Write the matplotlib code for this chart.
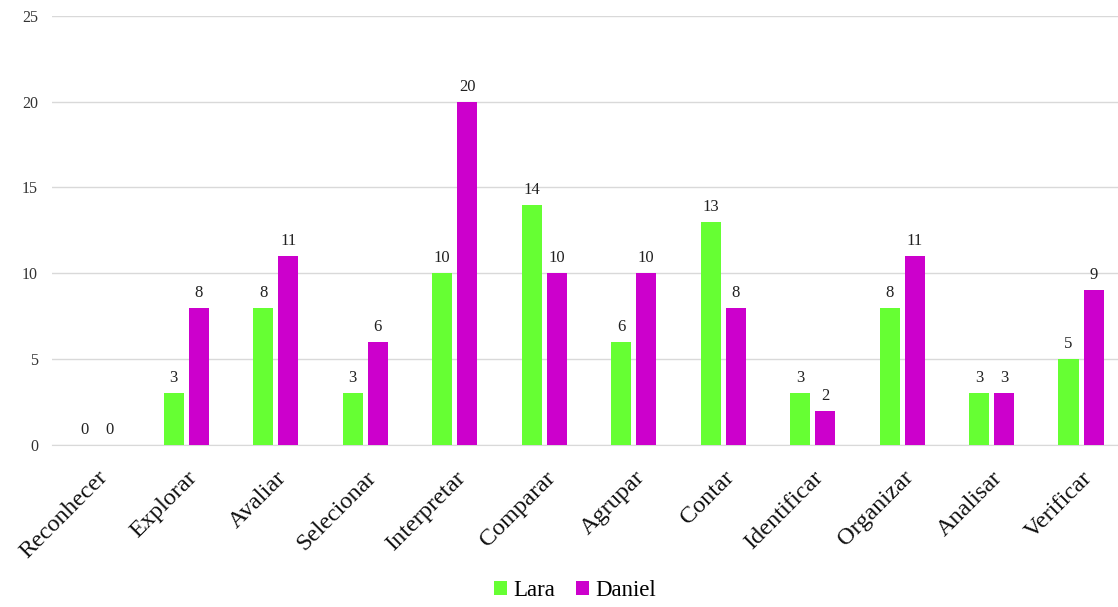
import matplotlib
matplotlib.use("Agg")
import matplotlib.pyplot as plt
import numpy as np

categories = ["Reconhecer", "Explorar", "Avaliar", "Selecionar", "Interpretar", "Comparar",
              "Agrupar", "Contar", "Identificar", "Organizar", "Analisar", "Verificar"]
lara = [0, 3, 8, 3, 10, 14, 6, 13, 3, 8, 3, 5]
daniel = [0, 8, 11, 6, 20, 10, 10, 8, 2, 11, 3, 9]
yticks = [0, 5, 10, 15, 20, 25]

green = "#66FF33"
magenta = "#CC00CC"
serif = ["Liberation Serif", "DejaVu Serif"]

fig = plt.figure(figsize=(11.18, 6.07), dpi=100)
# plot area runs slightly past the right edge of the image, as in the reference
ax = fig.add_axes([0.0465, 0.267, 0.9605, 0.707])

x = np.arange(len(categories))
w = 0.225
off = 0.14
b1 = ax.bar(x - off, lara, w, color=green, label="Lara", zorder=3)
b2 = ax.bar(x + off, daniel, w, color=magenta, label="Daniel", zorder=3)

for bars in (b1, b2):
    for r in bars:
        h = r.get_height()
        ax.annotate(f"{int(h)}", (r.get_x() + r.get_width() / 2, h), xytext=(0, 5),
                    textcoords="offset points", ha="center", va="bottom",
                    fontsize=12, family=serif, color="#222222")

ax.set_xlim(-0.5, len(categories) - 0.5)
ax.set_ylim(0, 25)
ax.set_yticks(yticks)
ax.set_yticklabels([str(t) for t in yticks], family=serif, fontsize=11.5, color="#333333")
ax.set_xticks(x)
ax.set_xticklabels(categories, rotation=45, ha="right", rotation_mode="anchor",
                   family=serif, fontsize=17.5, color="#111111")
ax.tick_params(axis="both", length=0)
ax.tick_params(axis="y", pad=10)
ax.tick_params(axis="x", pad=16)
ax.grid(axis="y", color="#d9d9d9", linewidth=1, zorder=0)
for s in ["left", "right", "top"]:
    ax.spines[s].set_visible(False)
ax.spines["bottom"].set_color("#d9d9d9")

leg = fig.legend(handles=[b1, b2], labels=["Lara", "Daniel"], loc="center",
                 bbox_to_anchor=(0.514, 0.027), ncol=2, frameon=False,
                 prop={"family": serif, "size": 16.5}, handlelength=0.6, handleheight=0.6,
                 handletextpad=0.25, columnspacing=0.9)

fig.savefig("out.png", dpi=100, facecolor="white")
